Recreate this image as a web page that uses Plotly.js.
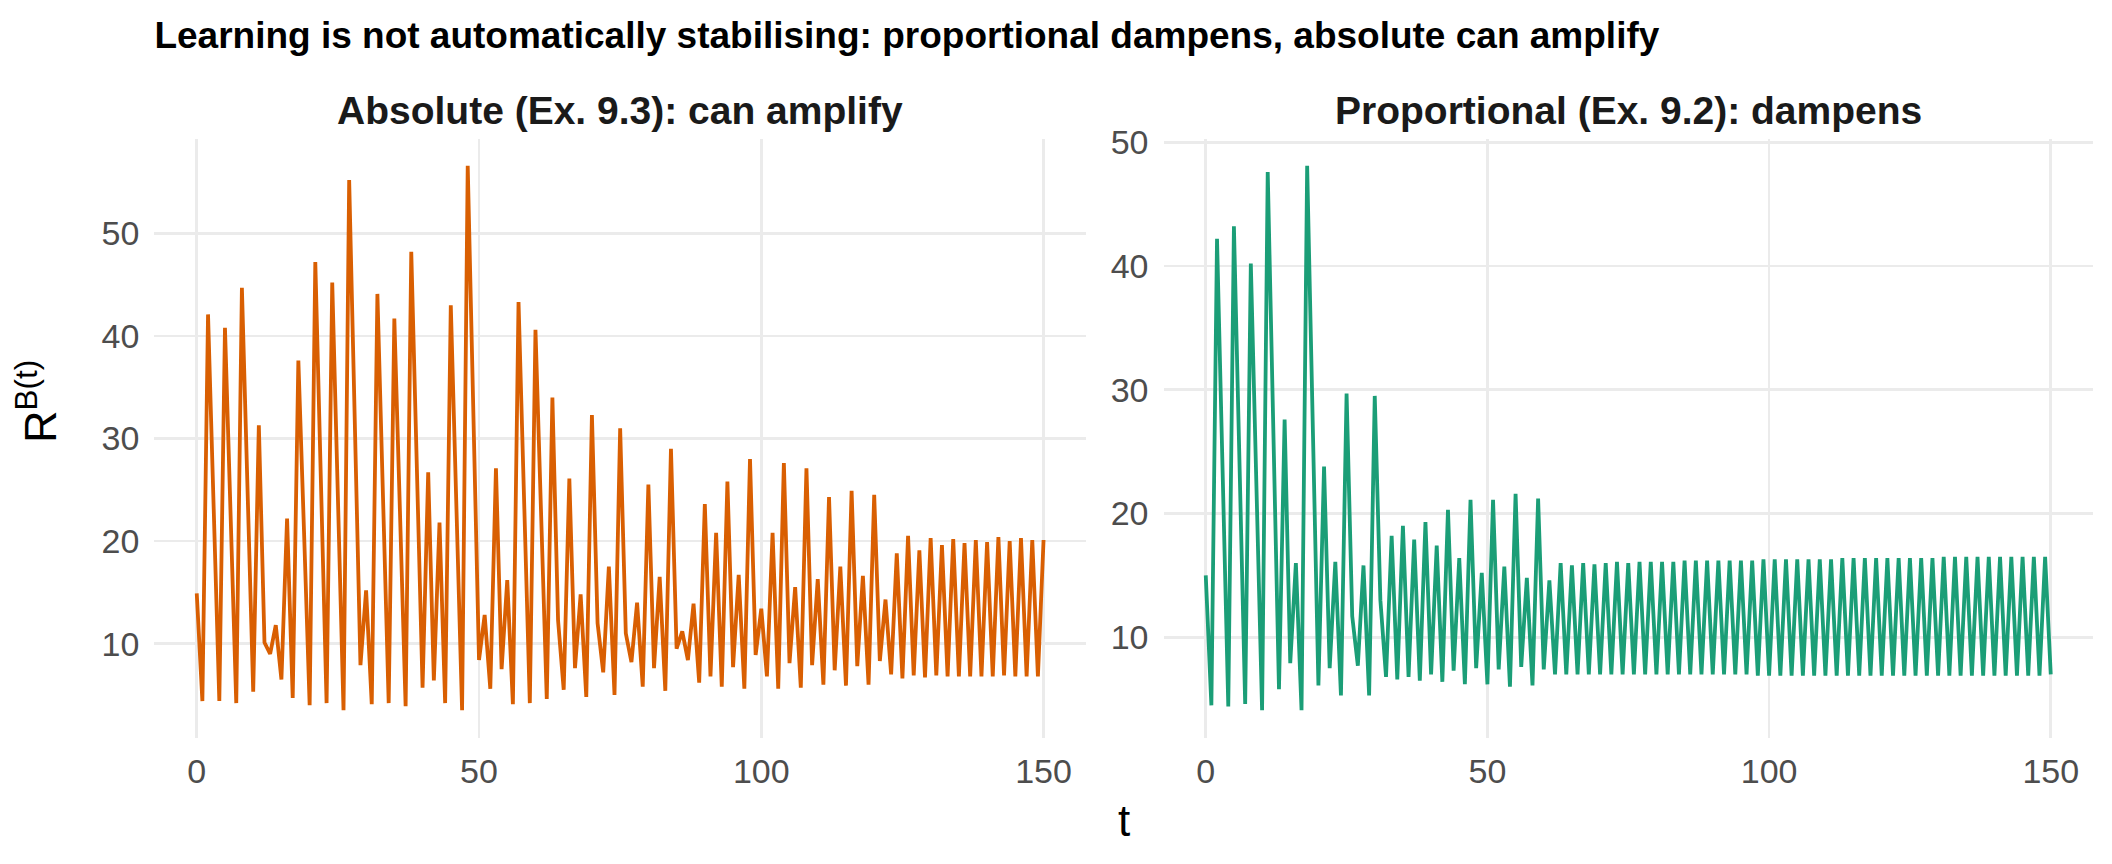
<!DOCTYPE html>
<html>
<head>
<meta charset="utf-8">
<script src="https://cdn.plot.ly/plotly-3.0.1.min.js"></script>
<style>
  html, body { margin: 0; padding: 0; background: #fff; }
  #chart { width: 2112px; height: 864px; }
</style>
</head>
<body>
<div id="chart"></div>
<script>
// time steps 0..150 (shared by both panels)
var t = [];
for (var i = 0; i <= 150; i++) t.push(i);

// Absolute learning rule (Ex. 9.3)
var absoluteR = [
  14.9, 4.4, 42.1, 23.0, 4.4, 40.8, 22.5, 4.2, 44.7, 25.0,
  5.3, 31.3, 10.1, 9.0, 11.8, 6.5, 22.2, 4.7, 37.6, 21.0,
  4.0, 47.2, 25.5, 4.2, 45.2, 24.5, 3.5, 55.2, 31.0, 7.9,
  15.2, 4.1, 44.1, 24.0, 4.2, 41.7, 22.8, 3.9, 48.2, 27.0,
  5.7, 26.7, 6.4, 21.8, 4.2, 43.0, 23.0, 3.5, 56.6, 32.0,
  8.4, 12.8, 5.6, 27.1, 7.5, 16.2, 4.1, 43.3, 23.7, 4.2,
  40.6, 22.6, 4.6, 34.0, 12.3, 5.5, 26.1, 7.6, 14.8, 4.8,
  32.3, 12.0, 7.2, 17.5, 5.0, 31.0, 11.0, 8.2, 14.0, 5.8,
  25.5, 7.6, 16.5, 5.4, 29.0, 9.5, 11.2, 8.4, 13.9, 6.2,
  23.6, 6.8, 20.8, 5.8, 25.8, 7.7, 16.7, 5.6, 28.0, 8.9,
  13.4, 6.8, 20.8, 5.6, 27.6, 8.1, 15.5, 5.7, 27.1, 7.9,
  16.3, 6.0, 24.3, 7.4, 17.5, 5.9, 24.9, 7.8, 16.6, 6.0,
  24.5, 8.3, 14.3, 7.0, 18.8, 6.6, 20.5, 6.9, 19.1, 6.7,
  20.3, 6.9, 19.6, 6.8, 20.2, 6.8, 19.8, 6.8, 20.1, 6.8,
  19.9, 6.8, 20.4, 6.9, 20.0, 6.8, 20.3, 6.8, 20.1, 6.8,
  20.1
];

// Proportional learning rule (Ex. 9.2)
var proportionalR = [
  15.0, 4.5, 42.2, 23.0, 4.4, 43.2, 24.0, 4.6, 40.2, 22.0,
  4.1, 47.6, 26.5, 5.8, 27.6, 7.9, 16.0, 4.1, 48.1, 27.0,
  6.1, 23.8, 7.5, 16.1, 5.3, 29.7, 11.7, 7.7, 15.8, 5.3,
  29.5, 13.0, 6.8, 18.2, 6.6, 19.0, 6.8, 17.9, 6.5, 19.3,
  7.0, 17.4, 6.4, 20.3, 7.3, 16.4, 6.2, 21.1, 7.5, 15.2,
  6.2, 21.1, 7.4, 15.7, 6.0, 21.6, 7.6, 14.8, 6.1, 21.2,
  7.4, 14.6, 7.0, 16.0, 7.0, 15.8, 7.0, 16.0, 7.0, 15.9,
  7.0, 16.0, 7.0, 16.1, 7.0, 16.0, 7.0, 16.1, 7.0, 16.1,
  7.0, 16.1, 7.0, 16.1, 7.0, 16.2, 7.0, 16.2, 7.0, 16.2,
  7.0, 16.2, 7.0, 16.2, 7.0, 16.2, 7.0, 16.2, 6.9, 16.3,
  6.9, 16.3, 6.9, 16.3, 6.9, 16.3, 6.9, 16.3, 6.9, 16.3,
  6.9, 16.3, 6.9, 16.4, 6.9, 16.4, 6.9, 16.4, 6.9, 16.4,
  6.9, 16.4, 6.9, 16.4, 6.9, 16.4, 6.9, 16.4, 6.9, 16.4,
  6.9, 16.5, 6.9, 16.5, 6.9, 16.5, 6.9, 16.5, 6.9, 16.5,
  6.9, 16.5, 6.9, 16.5, 6.9, 16.5, 6.9, 16.5, 6.9, 16.5,
  7.0
];

var xTicks = [0, 50, 100, 150];
var yTicks = [10, 20, 30, 40, 50];

var chartTitle = 'Learning is not automatically stabilising: proportional dampens, absolute can amplify';
var panelTitles = ['Absolute (Ex. 9.3): can amplify', 'Proportional (Ex. 9.2): dampens'];

// ggplot-style 5% padding around the data
function padded(arr) {
  var lo = Math.min.apply(null, arr), hi = Math.max.apply(null, arr);
  var pad = (hi - lo) * 0.05;
  return [lo - pad, hi + pad];
}
var xRange = [-7.5, 157.5];

var W = 2112, H = 864;
var leftDom = [154.4 / W, 1085.9 / W];
var rightDom = [1163.5 / W, 2093 / W];
var yDom = [1 - 737.5 / H, 1 - 138.5 / H];

var gridCol = '#EBEBEB';
var tickFont = { family: 'Liberation Sans, Arial, sans-serif', size: 34, color: '#4D4D4D' };

function xAxis(dom, anchor) {
  return {
    domain: dom, anchor: anchor, range: xRange, tickvals: xTicks,
    showgrid: true, gridcolor: gridCol, gridwidth: 2.6,
    zeroline: false, showline: false, ticks: '',
    tickfont: tickFont, ticklabelstandoff: 10
  };
}
function yAxis(range, anchor) {
  return {
    domain: yDom, anchor: anchor, range: range, tickvals: yTicks,
    showgrid: true, gridcolor: gridCol, gridwidth: 2.6,
    zeroline: false, showline: false, ticks: '',
    tickfont: tickFont, ticklabelstandoff: 14
  };
}

var data = [
  { x: t, y: absoluteR, type: 'scatter', mode: 'lines', xaxis: 'x', yaxis: 'y',
    line: { color: '#D95F02', width: 3.8 }, hoverinfo: 'skip' },
  { x: t, y: proportionalR, type: 'scatter', mode: 'lines', xaxis: 'x2', yaxis: 'y2',
    line: { color: '#1B9E77', width: 3.8 }, hoverinfo: 'skip' }
];

var layout = {
  width: W, height: H,
  margin: { l: 0, r: 0, t: 0, b: 0 },
  paper_bgcolor: '#fff', plot_bgcolor: '#fff',
  showlegend: false,
  font: { family: 'Liberation Sans, Arial, sans-serif', color: '#000' },
  title: {
    text: '<b>' + chartTitle + '</b>',
    x: 154.4 / W, xanchor: 'left', xref: 'paper',
    y: 1 - 35 / H, yanchor: 'middle', yref: 'container',
    font: { size: 37, color: '#000' }
  },
  xaxis: xAxis(leftDom, 'y'),
  yaxis: yAxis(padded(absoluteR), 'x'),
  xaxis2: xAxis(rightDom, 'y2'),
  yaxis2: yAxis(padded(proportionalR), 'x2'),
  annotations: [
    { text: '<b>' + panelTitles[0] + '</b>', xref: 'paper', yref: 'paper',
      x: (leftDom[0] + leftDom[1]) / 2, y: 1 - 111 / H, xanchor: 'center', yanchor: 'middle',
      showarrow: false, font: { size: 39, color: '#1A1A1A' } },
    { text: '<b>' + panelTitles[1] + '</b>', xref: 'paper', yref: 'paper',
      x: (rightDom[0] + rightDom[1]) / 2, y: 1 - 111 / H, xanchor: 'center', yanchor: 'middle',
      showarrow: false, font: { size: 39, color: '#1A1A1A' } },
    { text: 't', xref: 'paper', yref: 'paper',
      x: (leftDom[0] + rightDom[1]) / 2, y: 1 - 820 / H, xanchor: 'center', yanchor: 'middle',
      showarrow: false, font: { size: 44, color: '#000' } },
    { text: 'R<sup>B(t)</sup>', xref: 'paper', yref: 'paper',
      x: 37 / W, y: 1 - 402 / H, xanchor: 'center', yanchor: 'middle', textangle: -90,
      showarrow: false, font: { size: 45, color: '#000' } }
  ]
};

Plotly.newPlot('chart', data, layout, { displayModeBar: false, staticPlot: true });
</script>
</body>
</html>
